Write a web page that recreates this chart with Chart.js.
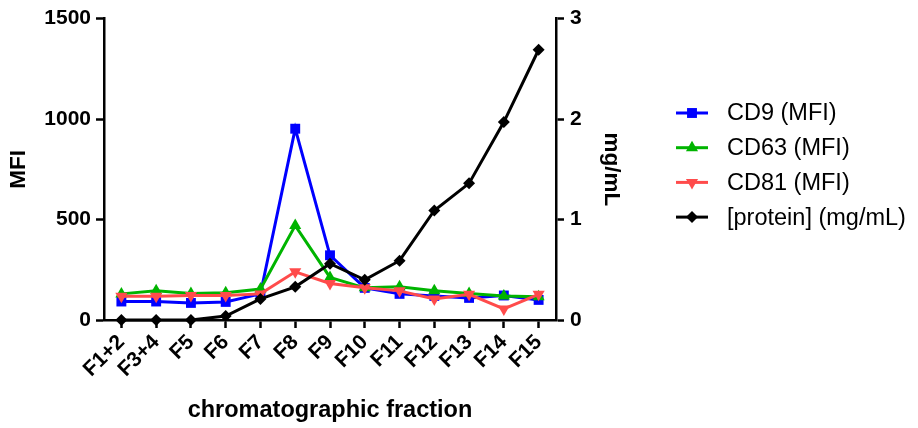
<!DOCTYPE html>
<html>
<head>
<meta charset="utf-8">
<script src="https://cdn.jsdelivr.net/npm/chart.js@4/dist/chart.umd.min.js"></script>
<style>
html,body{margin:0;padding:0;background:#fff;}
#wrap{width:918px;height:428px;}
</style>
</head>
<body>
<div id="wrap"><canvas id="c" width="918" height="428"></canvas></div>
<script>
const categories = ['F1+2','F3+4','F5','F6','F7','F8','F9','F10','F11','F12','F13','F14','F15'];
const cd9 = [92, 92, 85, 90, 130, 952, 322, 160, 130, 120, 110, 122, 100];
const cd63 = [130, 146, 132, 136, 154, 470, 212, 160, 165, 146, 132, 119, 116];
const cd81 = [118, 118, 122, 122, 130, 240, 182, 160, 145, 105, 128, 55, 128];
const protein = [0, 0, 0, 0.04, 0.21, 0.33, 0.56, 0.40, 0.59, 1.09, 1.36, 1.97, 2.69];
const seriesNames = ['CD9 (MFI)', 'CD63 (MFI)', 'CD81 (MFI)', '[protein] (mg/mL)'];
const leftTicks = [0, 500, 1000, 1500];
const rightTicks = [0, 1, 2, 3];

const FONT = "'Liberation Sans', Arial, Helvetica, sans-serif";
const BLUE = '#0000ff', GREEN = '#00b400', RED = '#ff4b4b', BLACK = '#000000';

function ds(label, data, color, style, rot, axis, order, radius) {
  return {
    label, data, borderColor: color, backgroundColor: color,
    pointStyle: style, rotation: rot, pointRadius: radius, pointHoverRadius: radius,
    borderWidth: 3, pointBorderWidth: 0, yAxisID: axis, order, tension: 0, clip: false
  };
}

const legendPlugin = {
  id: 'sideLegend',
  afterDraw(chart) {
    const ctx = chart.ctx;
    const x0 = 676, x1 = 708, tx = 727, y0 = 113, dy = 34.7;
    ctx.save();
    chart.data.datasets.forEach((d, i) => {
      const y = y0 + i * dy;
      ctx.strokeStyle = d.borderColor;
      ctx.lineWidth = 3;
      ctx.beginPath(); ctx.moveTo(x0, y); ctx.lineTo(x1, y); ctx.stroke();
      ctx.fillStyle = d.backgroundColor;
      Chart.helpers.drawPoint(ctx, {pointStyle: d.pointStyle, rotation: d.rotation, radius: d.pointRadius, borderWidth: 0}, (x0 + x1) / 2, y);
      ctx.fillStyle = '#000';
      ctx.font = '23.5px ' + FONT;
      ctx.textBaseline = 'middle';
      ctx.textAlign = 'left';
      ctx.fillText(d.label, tx, y + 1);
    });
    ctx.restore();
  }
};

new Chart(document.getElementById('c'), {
  type: 'line',
  data: {
    labels: categories,
    datasets: [
      ds(seriesNames[0], cd9, BLUE, 'rect', 0, 'y', 4, 7),
      ds(seriesNames[1], cd63, GREEN, 'triangle', 0, 'y', 3, 7),
      ds(seriesNames[2], cd81, RED, 'triangle', 180, 'y', 2, 7),
      ds(seriesNames[3], protein, BLACK, 'rectRot', 0, 'y2', 1, 6)
    ]
  },
  plugins: [legendPlugin],
  options: {
    responsive: false,
    animation: false,
    devicePixelRatio: 1,
    layout: {padding: {top: 18, right: 290, bottom: 0, left: 0}},
    plugins: {legend: {display: false}, tooltip: {enabled: false}},
    scales: {
      x: {
        type: 'category',
        offset: true,
        grid: {display: true, drawOnChartArea: false, drawTicks: true, tickLength: 8, tickWidth: 2.5, tickColor: '#000', offset: false},
        border: {display: true, color: '#000', width: 2.5},
        ticks: {color: '#000', font: {family: FONT, size: 21, weight: 'bold'}, maxRotation: 45, minRotation: 45, padding: 2, autoSkip: false},
        title: {display: true, text: 'chromatographic fraction', color: '#000', font: {family: FONT, size: 23.5, weight: 'bold'}, padding: {top: 4, bottom: 3}},
        afterFit(s) { s.height = 108; }
      },
      y: {
        position: 'left',
        min: 0, max: 1500,
        afterBuildTicks(s) { s.ticks = leftTicks.map(v => ({value: v})); },
        grid: {display: true, drawOnChartArea: false, drawTicks: true, tickLength: 8, tickWidth: 2.5, tickColor: '#000'},
        border: {display: true, color: '#000', width: 2.5},
        ticks: {color: '#000', font: {family: FONT, size: 21, weight: 'bold'}, padding: 5, callback: v => String(v)},
        title: {display: true, text: 'MFI', color: '#000', font: {family: FONT, size: 22.5, weight: 'bold'}, padding: {top: 5, bottom: 0}},
        afterFit(s) { s.width = 104; }
      },
      y2: {
        position: 'right',
        min: 0, max: 3,
        afterBuildTicks(s) { s.ticks = rightTicks.map(v => ({value: v})); },
        grid: {display: true, drawOnChartArea: false, drawTicks: true, tickLength: 8, tickWidth: 2.5, tickColor: '#000'},
        border: {display: true, color: '#000', width: 2.5},
        ticks: {color: '#000', font: {family: FONT, size: 21, weight: 'bold'}, padding: 6, callback: v => String(v)},
        title: {display: true, text: 'mg/mL', color: '#000', font: {family: FONT, size: 22.5, weight: 'bold'}, padding: {top: 3, bottom: 0}},
        afterFit(s) { s.width = 72; }
      }
    }
  }
});
</script>
</body>
</html>
